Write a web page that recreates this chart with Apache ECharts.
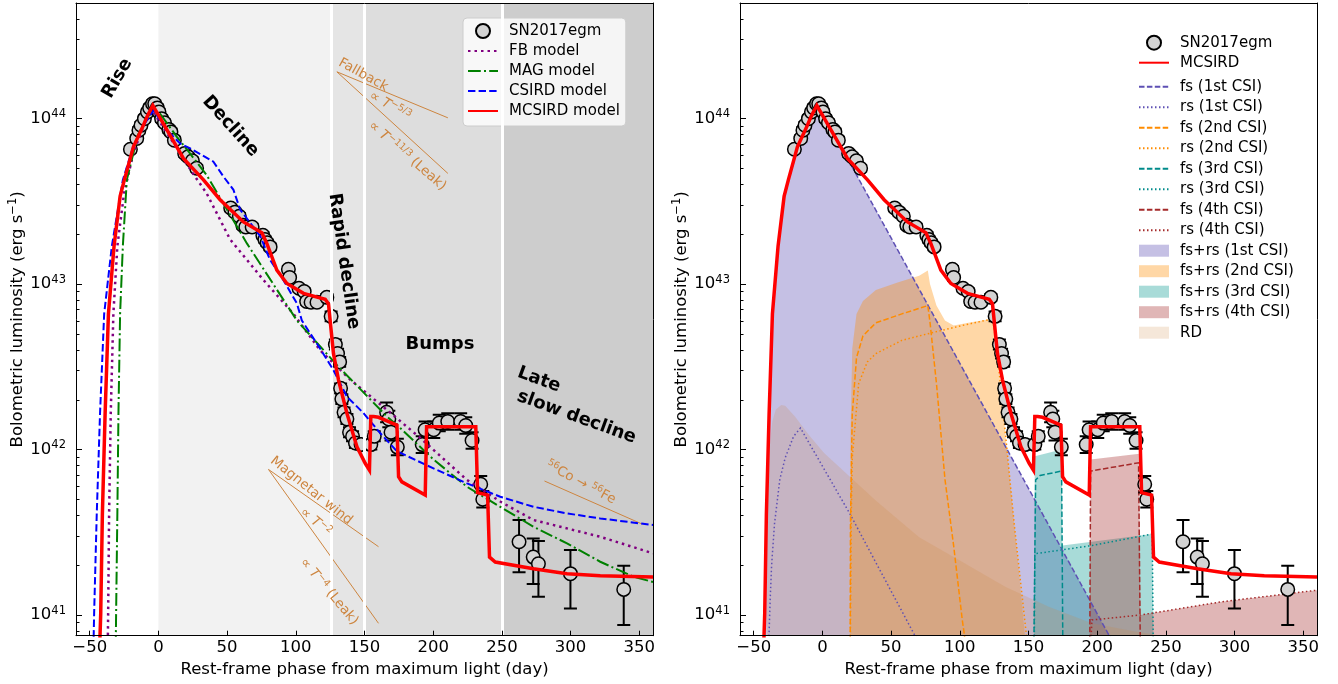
<!DOCTYPE html>
<html lang="en">
<head>
<meta charset="UTF-8">
<title>SN2017egm bolometric light curve</title>
<style>
  html, body { margin: 0; padding: 0; background: #fff; }
  #chart { width: 1338px; height: 684px; }
</style>
</head>
<body>
<div id="chart"></div>
<script src="https://cdn.jsdelivr.net/npm/echarts@6/dist/echarts.min.js"></script>
<script>
var FONT = 'DejaVu Sans';

// ---- observed light curve (phase in days, log10 L in erg/s, error in dex) ----
var obsDay = [-20.4, -15.8, -14.2, -12.7, -10.2, -8.0, -6.4, -4.3, -2.7, -0.8, 0.4, 2.3, 4.4, 7.6, 9.1, 11.6,
  19.1, 21.6, 24.7, 27.8, 52.6, 55.7, 58.9, 61.4, 63.6, 68.2, 76.0, 77.5, 79.1, 81.3, 94.6, 95.5, 102.3,
  106.1, 107.9, 111.1, 115.4, 122.6, 125.7, 128.8, 130.4, 131.9, 132.6, 133.5, 135.1, 137.2, 139.1, 141.3,
  143.4, 147.5, 154.6, 157.1, 166.1, 167.7, 169.3, 173.9, 192.0, 194.1, 200.4, 204.4, 210.6, 220.0, 223.7,
  228.3, 234.6, 236.1, 262.5, 272.8, 276.6, 299.9, 338.7];
var obsLogL = [43.815, 43.88, 43.93, 43.96, 44.0, 44.04, 44.065, 44.09, 44.09, 44.065, 44.04, 44.0, 43.975, 43.935, 43.92, 43.87,
  43.79, 43.77, 43.745, 43.70, 43.46, 43.435, 43.41, 43.355, 43.345, 43.345, 43.295, 43.27, 43.25, 43.225, 43.09, 43.04, 42.975,
  42.955, 42.895, 42.89, 42.89, 42.92, 42.805, 42.635, 42.58, 42.53, 42.37, 42.305, 42.225, 42.185, 42.105, 42.08,
  42.04, 42.03, 42.03, 42.08, 42.225, 42.185, 42.105, 42.015, 42.03, 42.12, 42.12, 42.16, 42.17, 42.17, 42.145,
  42.055, 41.79, 41.70, 41.443, 41.35, 41.31, 41.25, 41.155];
var obsErrUp = [0.02, 0.02, 0.02, 0.02, 0.02, 0.02, 0.02, 0.02, 0.02, 0.02, 0.02, 0.02, 0.02, 0.02, 0.02, 0.02,
  0.02, 0.02, 0.02, 0.02, 0.02, 0.02, 0.02, 0.02, 0.02, 0.02, 0.02, 0.02, 0.02, 0.02, 0.02, 0.02, 0.02,
  0.02, 0.02, 0.02, 0.02, 0.02, 0.03, 0.03, 0.03, 0.03, 0.03, 0.03, 0.03, 0.03, 0.03, 0.03,
  0.03, 0.03, 0.03, 0.03, 0.06, 0.05, 0.05, 0.05, 0.05, 0.05, 0.05, 0.05, 0.05, 0.05, 0.05,
  0.05, 0.05, 0.05, 0.131, 0.113, 0.137, 0.143, 0.143];
var obsErrDn = [0.02, 0.02, 0.02, 0.02, 0.02, 0.02, 0.02, 0.02, 0.02, 0.02, 0.02, 0.02, 0.02, 0.02, 0.02, 0.02,
  0.02, 0.02, 0.02, 0.02, 0.02, 0.02, 0.02, 0.02, 0.02, 0.02, 0.02, 0.02, 0.02, 0.02, 0.02, 0.02, 0.02,
  0.02, 0.02, 0.02, 0.02, 0.02, 0.03, 0.03, 0.03, 0.03, 0.03, 0.03, 0.03, 0.03, 0.03, 0.03,
  0.03, 0.03, 0.03, 0.03, 0.06, 0.05, 0.05, 0.05, 0.05, 0.05, 0.05, 0.05, 0.05, 0.05, 0.05,
  0.05, 0.05, 0.05, 0.185, 0.163, 0.20, 0.21, 0.215];

// ---- model curves, left panel ----
var mcsirdDay = [-42.8, -42.0, -40.8, -38.8, -36.4, -32.3, -27.9, -24.8, -18.2, -12, -8.4, -4.1, 18.2, 32.8, 44.9,
  61.9, 75.3, 78.9, 86.2, 93.5, 105.6, 121.4, 123.8, 125, 127.4, 131.1, 137.2, 144.5, 150.5, 153.6, 154.6,
  156.6, 160.2, 173.6, 174.8, 177.2, 194.2, 195.2, 231.0, 232.3, 239.6, 241.0, 245.2, 273, 297.4, 321.6, 360];
var mcsirdLog = [40.8, 41.01, 41.61, 42.22, 42.82, 43.23, 43.53, 43.63, 43.83, 43.94, 44.01, 44.08, 43.76, 43.63, 43.51,
  43.376, 43.31, 43.246, 43.085, 43.004, 42.944, 42.908, 42.88, 42.78, 42.581, 42.42, 42.22, 42.017, 41.917, 41.876, 42.2,
  42.2, 42.195, 42.148, 41.836, 41.805, 41.725, 42.138, 42.138, 41.74, 41.725, 41.35, 41.32, 41.28, 41.25, 41.237, 41.23];

var csirdDay = [-47.3, -46.8, -44.9, -42.5, -39.5, -33.9, -25.9, -18, -10, -3.6, 6.1, 15.8, 23.1, 40.0, 47.3, 54.6,
  59.5, 74.1, 81.3, 91.0, 100.8, 104.4, 117.7, 127.4, 137.2, 149.3, 161.4, 173.6, 200.2, 224.6, 248.8, 273.1,
  297.4, 321.6, 360];
var csirdLog = [40.8, 41.01, 41.61, 42.22, 42.82, 43.23, 43.63, 43.84, 43.97, 44.05, 43.93, 43.85, 43.82, 43.74, 43.65, 43.57,
  43.45, 43.29, 43.146, 43.024, 42.883, 42.78, 42.61, 42.48, 42.32, 42.22, 42.1, 41.99, 41.886, 41.796, 41.715, 41.654,
  41.614, 41.584, 41.544];

var magDay = [-31.1, -30.8, -29.9, -29.1, -27.9, -25.9, -23.0, -15, -8, -3.8, 1.2, 13.4, 22, 35, 64.4, 100.8, 130,
  166.3, 176, 200.2, 224.6, 248.8, 273.1, 297.4, 321.6, 345.9, 360];
var magLog = [40.8, 41.01, 41.61, 42.22, 42.82, 43.23, 43.63, 43.9, 44.01, 44.05, 44.03, 43.89, 43.8, 43.66, 43.246, 42.78, 42.51,
  42.2, 42.13, 41.94, 41.775, 41.654, 41.533, 41.433, 41.322, 41.231, 41.2];

var fbDay = [-36.9, -36.6, -35.9, -34.7, -32.8, -29.9, -25, -18, -10, -4.5, 5, 15, 25, 35, 52.2, 76.5, 98.3, 117.7,
  140, 166.3, 190.6, 224.6, 250, 273.1, 321.6, 360];
var fbLog = [40.8, 41.01, 41.61, 42.22, 42.82, 43.23, 43.55, 43.8, 43.97, 44.05, 43.93, 43.8, 43.67, 43.55, 43.27, 43.024, 42.82, 42.6,
  42.42, 42.24, 42.07, 41.816, 41.68, 41.574, 41.473, 41.373];

// ---- CSI components, right panel ----
var fs1Day = [-42.8, -42.0, -40.8, -38.8, -36.4, -32.3, -27.9, -24.8, -18.2, -12, -8.4, -4.1, 18.2, 70, 110, 152, 208.7, 214];
var fs1Log = [40.8, 41.0, 41.6, 42.21, 42.81, 43.22, 43.52, 43.62, 43.82, 43.93, 44.0, 44.07, 43.76, 42.976, 42.37, 41.735, 40.876, 40.78];
var rs1Day = [-39.2, -38, -37, -34.9, -31, -27.1, -21, -16, 0, 20.1, 40, 67.3, 70];
var rs1Log = [40.8, 41.1, 41.3, 41.55, 41.82, 41.95, 42.08, 42.13, 41.9, 41.61, 41.3, 40.876, 40.83];
var fs2Day = [20.2, 20.4, 21.7, 24.8, 29.5, 38.9, 57.8, 76.7, 78.3, 83, 89.2, 95.5, 101.8, 103.4, 104];
var fs2Log = [40.8, 41.55, 42.21, 42.555, 42.687, 42.766, 42.82, 42.87, 42.77, 42.40, 41.82, 41.42, 40.97, 40.876, 40.8];
var rs2Day = [20.3, 21.0, 21.7, 26.4, 32.7, 38.9, 57.8, 76.7, 101.8, 123.9, 127, 130.2, 133.4, 139.6, 148.5, 149.5];
var rs2Log = [40.8, 41.6, 41.95, 42.4, 42.53, 42.58, 42.66, 42.70, 42.75, 42.79, 42.61, 42.34, 42.08, 41.55, 40.876, 40.8];
var fs3Day = [153.9, 155.2, 158.4, 174.1, 175.0];
var fs3Log = [40.8, 41.817, 41.843, 41.87, 40.8];
var rs3Day = [154.2, 154.6, 196.2, 240.1, 240.8];
var rs3Log = [40.8, 41.37, 41.42, 41.49, 40.8];
var fs4Day = [194.6, 195.2, 230.1, 231.4];
var fs4Log = [40.8, 41.87, 41.92, 40.8];
var rs4Day = [195.2, 196.2, 231.4, 290.5, 360];
var rs4Log = [40.8, 40.97, 41.0, 41.08, 41.15];

var sum1Day = fs1Day;
var sum1Log = fs1Log;
var sum2Day = [20.1, 20.4, 21.7, 24.8, 29.5, 38.9, 54.7, 70.4, 76.7, 78.3, 83, 89.2, 95.5, 108.2, 123.9, 125.4, 128.6,
  131.8, 136.4, 142.7, 147.4, 148.5];
var sum2Log = [40.8, 42.08, 42.61, 42.82, 42.898, 42.964, 43.009, 43.051, 43.083, 43.0, 42.87, 42.78, 42.75, 42.77, 42.79, 42.71, 42.48,
  42.21, 41.82, 41.29, 40.88, 40.75];
var sum3Day = [153.9, 154.6, 174.1, 174.7, 240.1, 241.1];
var sum3Log = [40.8, 41.96, 42.0, 41.42, 41.49, 40.8];
var sum4Day = [194.6, 195.2, 230.7, 231.4, 290.5, 360];
var sum4Log = [40.8, 41.94, 41.975, 41.0, 41.08, 41.15];
var rdDay = [-40.6, -40.0, -39, -38, -36.5, -34, -30, -27.1, -20, -10, 1.2, 39, 70.4, 101.9, 133.4, 164.8, 196.2, 227.6, 259, 280];
var rdLog = [40.8, 41.5, 41.85, 42.05, 42.17, 42.24, 42.27, 42.265, 42.2, 42.09, 41.98, 41.69, 41.47, 41.32, 41.17, 41.05, 40.95, 40.9, 40.86, 40.82];

// ---- annotation guide lines (left panel) ----
var fallbackDay = [210.7, 129.9, 210.7];
var fallbackLog = [44.005, 44.283, 43.669];
var magnetarDay = [160.2, 80.1, 160.2];
var magnetarLog = [41.413, 41.88, 40.95];
var cobaltDay = [281, 352];
var cobaltLog = [41.81, 41.55];

// ---- phases shading ----
var phaseEdges = [0, 126, 150, 250, 360];
var phaseColors = ['#f2f2f2', '#e5e5e5', '#dddddd', '#cdcdcd'];

// ---- axes ----
var xMin = -60, xMax = 360;
var yMin = 7.5e40, yMax = 5e44;
var xTicks = [-50, 0, 50, 100, 150, 200, 250, 300, 350];
var yTicks = [1e41, 1e42, 1e43, 1e44];
var yMinorMult = [2, 3, 4, 5, 6, 7, 8, 9];
var yMinor = [];
[40, 41, 42, 43, 44].forEach(function (e) {
  yMinorMult.forEach(function (m) {
    var v = m * Math.pow(10, e);
    if (v > yMin && v < yMax) yMinor.push(v);
  });
});

function toPairs(days, logs) {
  return days.map(function (d, i) { return [d, Math.pow(10, logs[i])]; });
}

var obsPoints = toPairs(obsDay, obsLogL);
var obsBars = obsDay.map(function (d, i) {
  return [d, Math.pow(10, obsLogL[i] - obsErrDn[i]), Math.pow(10, obsLogL[i] + obsErrUp[i])];
});

var PERU = '#cd853f';
var C1 = '#5e50b4', C2 = '#ff8c00', C3 = '#008b8b', C4 = '#a52a2a';
var F1 = 'rgba(94,80,180,0.36)', F2 = 'rgba(255,140,0,0.35)', F3 = 'rgba(0,150,140,0.34)',
    F4 = 'rgba(165,42,42,0.34)', FRD = 'rgba(205,133,63,0.2)';

function xAxes(gi) {
  return [{
    type: 'value', gridIndex: gi, position: 'bottom', min: xMin, max: xMax, z: 10,
    name: 'Rest-frame phase from maximum light (day)', nameLocation: 'middle', nameGap: 22,
    nameTextStyle: { fontFamily: FONT, fontSize: 16.5, color: '#000' },
    axisLine: { show: true, onZero: false, lineStyle: { color: '#000', width: 1 } },
    axisTick: { show: true, inside: true, length: 5, customValues: xTicks, lineStyle: { color: '#000' } },
    axisLabel: { customValues: xTicks, margin: 4, fontFamily: FONT, fontSize: 16.5, color: '#000',
      formatter: function (v) { return String(v).replace('-', '\u2212'); } },
    splitLine: { show: false }
  }, {
    type: 'value', gridIndex: gi, position: 'top', min: xMin, max: xMax, z: 10,
    axisLine: { show: true, onZero: false, lineStyle: { color: '#000', width: 1 } },
    axisTick: { show: false }, axisLabel: { show: false }, splitLine: { show: false }
  }];
}

function yAxes(gi) {
  return [{
    type: 'log', logBase: 10, gridIndex: gi, position: 'left', min: yMin, max: yMax, z: 10,
    name: 'Bolometric luminosity (erg s{s|\u22121})', nameLocation: 'middle', nameGap: 48,
    nameTextStyle: { fontFamily: FONT, fontSize: 16.5, color: '#000',
      rich: { s: { fontFamily: FONT, fontSize: 11.5, color: '#000', padding: [0, 0, 9, 0] } } },
    axisLine: { show: true, onZero: false, lineStyle: { color: '#000', width: 1 } },
    axisTick: { show: true, inside: true, length: 6, customValues: yTicks, lineStyle: { color: '#000' } },
    axisLabel: { customValues: yTicks, margin: 10,
      formatter: function (v) { return '{b|10}{s|' + Math.round(Math.log10(v)) + '}'; },
      rich: {
        b: { fontFamily: FONT, fontSize: 16.5, color: '#000' },
        s: { fontFamily: FONT, fontSize: 11.5, color: '#000', padding: [0, 0, 9, 0] }
      } },
    splitLine: { show: false }
  }, {
    type: 'log', logBase: 10, gridIndex: gi, position: 'left', min: yMin, max: yMax, z: 10,
    axisLine: { show: false, onZero: false },
    axisTick: { show: true, inside: true, length: 3.5, customValues: yMinor, lineStyle: { color: '#000' } },
    axisLabel: { show: false }, splitLine: { show: false }
  }, {
    type: 'log', logBase: 10, gridIndex: gi, position: 'right', min: yMin, max: yMax, z: 10,
    axisLine: { show: true, onZero: false, lineStyle: { color: '#000', width: 1 } },
    axisTick: { show: false }, axisLabel: { show: false }, splitLine: { show: false }
  }];
}

function curve(name, gi, days, logs, color, width, dash, z) {
  return {
    name: name, type: 'line', xAxisIndex: gi * 2, yAxisIndex: gi * 3, z: z,
    data: toPairs(days, logs), symbol: 'none', showSymbol: false, silent: true,
    itemStyle: { color: color },
    lineStyle: { color: color, width: width, type: dash || 'solid', cap: 'butt', join: 'miter' }
  };
}

function area(name, gi, days, logs, fill, z) {
  return {
    name: name, type: 'line', xAxisIndex: gi * 2, yAxisIndex: gi * 3, z: z,
    data: toPairs(days, logs), symbol: 'none', showSymbol: false, silent: true,
    itemStyle: { color: fill },
    lineStyle: { width: 0, color: fill },
    areaStyle: { color: fill, origin: 'start', opacity: 1 }
  };
}

function errorBars(gi, z) {
  return {
    name: 'err' + gi, type: 'custom', xAxisIndex: gi * 2, yAxisIndex: gi * 3, z: z, silent: true,
    data: obsBars, clip: true,
    renderItem: function (params, api) {
      var lo = api.coord([api.value(0), api.value(1)]);
      var hi = api.coord([api.value(0), api.value(2)]);
      var cap = 6.5, st = { stroke: '#000', lineWidth: 2 };
      return { type: 'group', children: [
        { type: 'line', shape: { x1: lo[0], y1: lo[1], x2: hi[0], y2: hi[1] }, style: st },
        { type: 'line', shape: { x1: lo[0] - cap, y1: lo[1], x2: lo[0] + cap, y2: lo[1] }, style: st },
        { type: 'line', shape: { x1: hi[0] - cap, y1: hi[1], x2: hi[0] + cap, y2: hi[1] }, style: st }
      ] };
    }
  };
}

function points(gi, z) {
  return {
    name: 'SN2017egm', type: 'scatter', xAxisIndex: gi * 2, yAxisIndex: gi * 3, z: z, silent: true,
    data: obsPoints, symbol: 'circle', symbolSize: 13.5,
    itemStyle: { color: '#d3d3d3', borderColor: '#000', borderWidth: 1.5, opacity: 1 }
  };
}

var DOT_L = [2.5, 4], DASH_L = [7.4, 3.2], DASHDOT_L = [12.8, 3.2, 2, 3.2];
var DOT_R = [1.5, 2.5], DASH_R = [5.5, 2.4];

var shading = {
  name: 'phases', type: 'line', xAxisIndex: 0, yAxisIndex: 0, z: 1, silent: true,
  data: [], symbol: 'none',
  markArea: {
    silent: true,
    data: phaseColors.map(function (c, i) {
      return [{ xAxis: phaseEdges[i], itemStyle: { color: c } }, { xAxis: phaseEdges[i + 1] }];
    })
  },
  markLine: {
    silent: true, symbol: ['none', 'none'], label: { show: false },
    lineStyle: { color: '#ffffff', width: 3, type: 'solid' },
    data: [{ xAxis: phaseEdges[1] }, { xAxis: phaseEdges[2] }, { xAxis: phaseEdges[3] }]
  }
};

var series = [
  shading,
  curve('fallback', 0, fallbackDay, fallbackLog, PERU, 1, 'solid', 2),
  curve('magnetar', 0, magnetarDay, magnetarLog, PERU, 1, 'solid', 2),
  curve('cobalt', 0, cobaltDay, cobaltLog, PERU, 1, 'solid', 2),
  errorBars(0, 3),
  points(0, 4),
  curve('FB model', 0, fbDay, fbLog, '#800080', 2.5, DOT_L, 5),
  curve('MAG model', 0, magDay, magLog, '#008000', 2, DASHDOT_L, 5),
  curve('CSIRD model', 0, csirdDay, csirdLog, '#0000ff', 2, DASH_L, 5),
  curve('MCSIRD model', 0, mcsirdDay, mcsirdLog, '#ff0000', 3.5, 'solid', 6),

  area('fs+rs (1st CSI)', 1, sum1Day, sum1Log, F1, 2),
  area('fs+rs (2nd CSI)', 1, sum2Day, sum2Log, F2, 2),
  area('fs+rs (3rd CSI)', 1, sum3Day, sum3Log, F3, 2),
  area('fs+rs (4th CSI)', 1, sum4Day, sum4Log, F4, 2),
  area('RD', 1, rdDay, rdLog, FRD, 2),
  curve('fs (1st CSI)', 1, fs1Day, fs1Log, C1, 1.5, DASH_R, 3),
  curve('rs (1st CSI)', 1, rs1Day, rs1Log, C1, 1.5, DOT_R, 3),
  curve('fs (2nd CSI)', 1, fs2Day, fs2Log, C2, 1.5, DASH_R, 3),
  curve('rs (2nd CSI)', 1, rs2Day, rs2Log, C2, 1.5, DOT_R, 3),
  curve('fs (3rd CSI)', 1, fs3Day, fs3Log, C3, 1.5, DASH_R, 3),
  curve('rs (3rd CSI)', 1, rs3Day, rs3Log, C3, 1.5, DOT_R, 3),
  curve('fs (4th CSI)', 1, fs4Day, fs4Log, C4, 1.5, DASH_R, 3),
  curve('rs (4th CSI)', 1, rs4Day, rs4Log, C4, 1.5, DOT_R, 3),
  errorBars(1, 4),
  points(1, 5),
  curve('MCSIRD', 1, mcsirdDay, mcsirdLog, '#ff0000', 3.5, 'solid', 6)
];

var legendText = { fontFamily: FONT, fontSize: 15, color: '#000', lineHeight: 16, padding: [0, 0, 0, 6] };

// line entries: hide the marker that ECharts puts in the middle of a line icon
function lineItem(name) {
  return { name: name, itemStyle: { opacity: 0 } };
}
function rectItem(name, fill) {
  return { name: name, icon: 'rect', itemStyle: { color: fill, borderWidth: 0 } };
}

var legends = [{
  orient: 'vertical', left: 463, top: 18, selectedMode: false,
  backgroundColor: 'rgba(255,255,255,0.8)', borderColor: '#cccccc', borderWidth: 1, borderRadius: 4,
  padding: [5, 6, 7, 4], itemWidth: 30, itemHeight: 14, itemGap: 4, textStyle: legendText,
  data: ['SN2017egm', lineItem('FB model'), lineItem('MAG model'), lineItem('CSIRD model'), lineItem('MCSIRD model')]
}, {
  orient: 'vertical', left: 1138, top: 34.7, selectedMode: false, padding: 0,
  itemWidth: 30, itemHeight: 14, itemGap: 4, textStyle: legendText,
  data: ['SN2017egm', lineItem('MCSIRD')]
}, {
  orient: 'vertical', left: 1138, top: 78.7, selectedMode: false, padding: 0,
  itemWidth: 30, itemHeight: 12, itemGap: 4.5, textStyle: legendText,
  data: [lineItem('fs (1st CSI)'), lineItem('rs (1st CSI)'), lineItem('fs (2nd CSI)'), lineItem('rs (2nd CSI)'),
    lineItem('fs (3rd CSI)'), lineItem('rs (3rd CSI)'), lineItem('fs (4th CSI)'), lineItem('rs (4th CSI)'),
    rectItem('fs+rs (1st CSI)', F1), rectItem('fs+rs (2nd CSI)', F2), rectItem('fs+rs (3rd CSI)', F3),
    rectItem('fs+rs (4th CSI)', F4), rectItem('RD', FRD)]
}];

function label(text, x, y, deg, opts) {
  opts = opts || {};
  return {
    type: 'text', x: x, y: y, rotation: deg * Math.PI / 180, z: 100, silent: true,
    style: {
      text: text, x: 0, y: 0, align: 'center', verticalAlign: 'middle',
      textAlign: 'center', textVerticalAlign: 'middle',
      fill: opts.color || '#000', fontFamily: FONT,
      fontSize: opts.size || 18, fontWeight: opts.weight || 'bold',
      rich: opts.rich
    }
  };
}

var annoRich = {
  t: { fontFamily: FONT, fontSize: 13.5, color: PERU },
  i: { fontFamily: FONT, fontSize: 13.5, color: PERU, fontStyle: 'italic' },
  s: { fontFamily: FONT, fontSize: 9.5, color: PERU, padding: [0, 0, 7, 0] }
};
function anno(text, x, y, deg) {
  return label(text, x, y, deg, { color: PERU, size: 13.5, weight: 'normal', rich: annoRich });
}

var graphics = [
  label('Rise', 117.4, 78.4, 60),
  label('Decline', 230.6, 126.3, -48),
  label('Rapid decline', 343.8, 261.3, -81.8),
  label('Bumps', 439.9, 344.1, 0),
  label('Late', 539, 379.8, -20),
  label('slow decline', 576.5, 417.2, -20),
  anno('{t|Fallback}', 363.3, 75, -29),
  anno('{t|\u221d }{i|T}{s|\u22125/3}', 390, 106, -30),
  anno('{t|\u221d }{i|T}{s|\u221211/3}{t| (Leak)}', 407.3, 156, -41),
  anno('{t|Magnetar wind}', 311.3, 490.7, -38.6),
  anno('{t|\u221d }{i|T}{s|\u22122}', 315.7, 522.3, -40),
  anno('{t|\u221d }{i|T}{s|\u22124}{t| (Leak)}', 329, 591.7, -50),
  anno('{s|56}{t|Co \u2192 }{s|56}{t|Fe}', 580.7, 482.7, -28)
];

var chart = echarts.init(document.getElementById('chart'));
chart.setOption({
  animation: false,
  backgroundColor: '#ffffff',
  textStyle: { fontFamily: FONT },
  grid: [
    { left: 76, top: 3, width: 577, height: 632.7, outerBoundsMode: 'none', show: true, backgroundColor: '#fff', borderWidth: 0 },
    { left: 740, top: 3, width: 577, height: 632.7, outerBoundsMode: 'none', show: true, backgroundColor: '#fff', borderWidth: 0 }
  ],
  xAxis: xAxes(0).concat(xAxes(1)),
  yAxis: yAxes(0).concat(yAxes(1)),
  legend: legends,
  graphic: { elements: graphics },
  series: series
});
</script>
</body>
</html>
